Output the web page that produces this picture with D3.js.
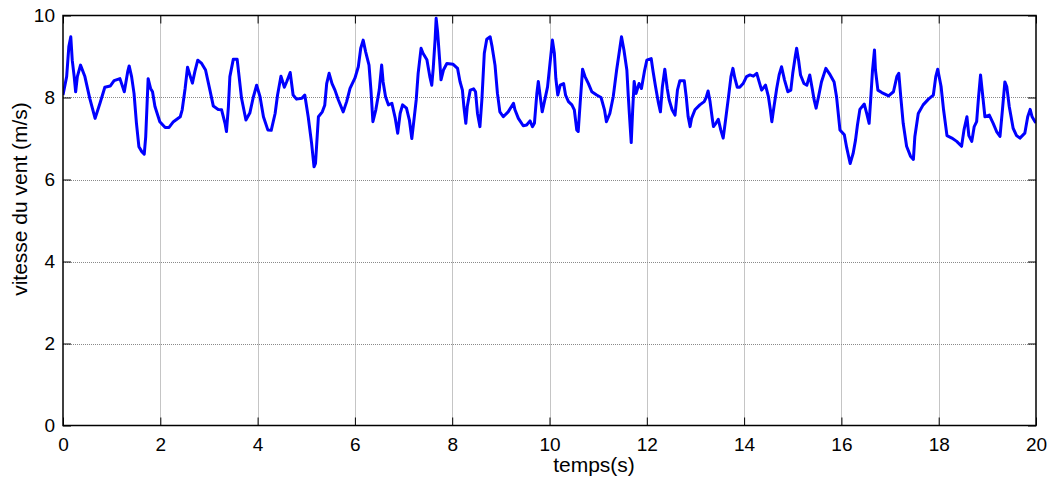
<!DOCTYPE html>
<html>
<head>
<meta charset="utf-8">
<script src="https://cdn.jsdelivr.net/npm/d3@7"></script>
<style>
  html, body { margin: 0; padding: 0; background: #fff; }
  svg { display: block; font-family: "Liberation Sans", Arial, sans-serif; }
</style>
</head>
<body>
<svg id="chart" width="1051" height="481"></svg>
<script>
// Wind speed record, sampled along the 20 s window
const times = [
  0.00, 0.075, 0.12, 0.16, 0.19, 0.23, 0.26, 0.295, 0.36, 0.45, 0.55, 0.66, 0.76, 0.86, 0.97,
  1.05, 1.17, 1.26, 1.33, 1.36, 1.41, 1.46, 1.51, 1.56, 1.62, 1.67, 1.70, 1.75, 1.80, 1.84, 1.89, 1.99,
  2.10, 2.18, 2.27, 2.41, 2.45, 2.51, 2.56, 2.61, 2.66, 2.71, 2.77, 2.85, 2.93,
  3.02, 3.09, 3.19, 3.26, 3.33, 3.36, 3.40, 3.43, 3.50, 3.58, 3.62, 3.67, 3.76, 3.84, 3.91, 3.98,
  4.05, 4.12, 4.21, 4.28, 4.36, 4.41, 4.48, 4.55, 4.60, 4.67, 4.73, 4.80, 4.91, 4.97,
  5.04, 5.11, 5.16, 5.19, 5.25, 5.33, 5.38, 5.42, 5.47, 5.53, 5.59, 5.66, 5.76, 5.83, 5.90,
  6.00, 6.07, 6.12, 6.17, 6.22, 6.29, 6.33, 6.37, 6.43, 6.50, 6.55, 6.58, 6.63, 6.69, 6.76, 6.83, 6.88, 6.93, 6.98,
  7.06, 7.12, 7.17, 7.21, 7.26, 7.30, 7.36, 7.40, 7.48, 7.54, 7.58, 7.61, 7.65, 7.67, 7.70, 7.74, 7.77, 7.82, 7.89,
  8.02, 8.11, 8.16, 8.21, 8.24, 8.28, 8.31, 8.37, 8.44, 8.48, 8.52, 8.57, 8.61, 8.66, 8.71, 8.78, 8.82, 8.88, 8.93, 8.98,
  9.05, 9.15, 9.26, 9.29, 9.36, 9.46, 9.53, 9.60, 9.65, 9.69, 9.74, 9.77, 9.81, 9.85, 9.91, 9.96,
  10.01, 10.06, 10.10, 10.13, 10.17, 10.22, 10.29, 10.33, 10.39, 10.46, 10.51, 10.56, 10.59, 10.63, 10.68, 10.73, 10.80, 10.87, 10.97,
  11.06, 11.13, 11.17, 11.24, 11.31, 11.38, 11.45, 11.48, 11.53, 11.59, 11.62, 11.65, 11.68, 11.71, 11.74, 11.78, 11.84, 11.89, 11.95,
  12.00, 12.09, 12.13, 12.18, 12.24, 12.28, 12.32, 12.37, 12.42, 12.46, 12.52, 12.58, 12.63, 12.68, 12.77, 12.81, 12.85, 12.89, 12.92, 12.99,
  13.09, 13.18, 13.22, 13.26, 13.30, 13.35, 13.37, 13.42, 13.47, 13.52, 13.57, 13.61, 13.68, 13.73, 13.77, 13.81, 13.86, 13.91, 13.98,
  14.05, 14.12, 14.19, 14.26, 14.31, 14.36, 14.44, 14.50, 14.54, 14.57, 14.61, 14.67, 14.72, 14.77, 14.83, 14.90, 14.96,
  15.00, 15.05, 15.08, 15.12, 15.16, 15.23, 15.29, 15.35, 15.40, 15.44, 15.48, 15.53, 15.59, 15.68, 15.77, 15.85, 15.90, 15.97,
  16.06, 16.11, 16.18, 16.24, 16.29, 16.33, 16.38, 16.47, 16.52, 16.57, 16.61, 16.64, 16.68, 16.70, 16.75, 16.83, 16.97,
  17.07, 17.14, 17.18, 17.22, 17.27, 17.34, 17.42, 17.48, 17.51, 17.58, 17.68, 17.79, 17.89, 17.94, 17.98,
  18.05, 18.10, 18.17, 18.27, 18.37, 18.47, 18.52, 18.58, 18.62, 18.68, 18.73, 18.78, 18.82, 18.86, 18.90, 18.95,
  19.04, 19.12, 19.19, 19.26, 19.31, 19.36, 19.40, 19.45, 19.53, 19.60, 19.67, 19.77, 19.83, 19.88, 19.92, 19.98, 20.00
];
const speeds = [
  8.06, 8.51, 9.24, 9.48, 8.91, 8.51, 8.14, 8.51, 8.79, 8.51, 7.98, 7.49, 7.86, 8.25, 8.28,
  8.41, 8.46, 8.14, 8.63, 8.77, 8.51, 8.10, 7.37, 6.80, 6.68, 6.62, 7.04, 8.46, 8.22, 8.14, 7.78, 7.41,
  7.27, 7.27, 7.41, 7.53, 7.70, 8.22, 8.74, 8.54, 8.35, 8.63, 8.91, 8.83, 8.67,
  8.18, 7.79, 7.71, 7.70, 7.37, 7.17, 7.78, 8.51, 8.93, 8.93, 8.51, 7.98, 7.45, 7.62, 8.00, 8.30,
  8.02, 7.53, 7.21, 7.20, 7.61, 8.06, 8.52, 8.25, 8.39, 8.61, 8.06, 7.96, 7.98, 8.06,
  7.53, 6.88, 6.31, 6.39, 7.53, 7.65, 7.81, 8.34, 8.59, 8.34, 8.18, 7.94, 7.65, 7.90, 8.22,
  8.47, 8.75, 9.20, 9.40, 9.12, 8.79, 8.18, 7.41, 7.70, 8.18, 8.79, 8.38, 8.02, 7.82, 7.86, 7.49, 7.13, 7.61, 7.82,
  7.74, 7.45, 7.00, 7.41, 7.94, 8.59, 9.20, 9.08, 8.92, 8.51, 8.30, 8.71, 9.44, 9.93, 9.60, 8.95, 8.43, 8.67, 8.83,
  8.81, 8.71, 8.39, 8.18, 7.78, 7.37, 7.78, 8.18, 8.21, 8.14, 7.61, 7.29, 7.94, 9.08, 9.42, 9.48, 9.24, 8.79, 8.10, 7.65,
  7.53, 7.65, 7.86, 7.70, 7.49, 7.31, 7.33, 7.43, 7.29, 7.37, 8.10, 8.39, 8.02, 7.65, 7.98, 8.26,
  8.83, 9.40, 9.08, 8.47, 8.06, 8.30, 8.34, 8.06, 7.90, 7.82, 7.70, 7.21, 7.17, 7.86, 8.69, 8.51, 8.34, 8.14, 8.06,
  8.00, 7.70, 7.41, 7.61, 8.02, 8.67, 9.24, 9.48, 9.16, 8.67, 8.02, 7.45, 6.90, 7.70, 8.39, 8.10, 8.34, 8.22, 8.63,
  8.91, 8.95, 8.63, 8.26, 7.86, 7.65, 8.26, 8.69, 8.22, 7.94, 7.70, 7.57, 8.18, 8.41, 8.41, 8.02, 7.53, 7.29, 7.49, 7.70,
  7.82, 7.90, 8.00, 8.16, 7.90, 7.45, 7.29, 7.37, 7.47, 7.21, 7.01, 7.37, 8.02, 8.51, 8.71, 8.47, 8.25, 8.25, 8.34,
  8.51, 8.55, 8.52, 8.59, 8.38, 8.18, 8.30, 8.02, 7.70, 7.41, 7.74, 8.22, 8.55, 8.75, 8.43, 8.14, 8.18,
  8.59, 8.99, 9.20, 8.91, 8.55, 8.34, 8.30, 8.55, 8.22, 7.94, 7.74, 8.02, 8.38, 8.71, 8.55, 8.38, 8.02, 7.21,
  7.09, 6.77, 6.39, 6.63, 6.96, 7.33, 7.71, 7.84, 7.61, 7.37, 8.10, 8.67, 9.16, 8.67, 8.18, 8.12, 8.04,
  8.14, 8.51, 8.59, 8.02, 7.37, 6.81, 6.57, 6.49, 7.05, 7.61, 7.82, 7.96, 8.06, 8.51, 8.69,
  8.26, 7.70, 7.07, 7.01, 6.93, 6.81, 7.21, 7.53, 7.07, 6.93, 7.29, 7.41, 8.02, 8.55, 8.10, 7.53,
  7.57, 7.37, 7.17, 7.05, 7.70, 8.38, 8.26, 7.78, 7.25, 7.07, 7.01, 7.13, 7.53, 7.71, 7.53, 7.41, 7.38
];
const xTicks = [0, 2, 4, 6, 8, 10, 12, 14, 16, 18, 20];
const yTicks = [0, 2, 4, 6, 8, 10];
const xLabel = "temps(s)";
const yLabel = "vitesse du vent (m/s)";

const svg = d3.select("#chart");
const plot = { left: 63, right: 1036, top: 15.5, bottom: 425.5 };

const x = d3.scaleLinear().domain([0, 20]).range([plot.left, plot.right]);
const y = d3.scaleLinear().domain([0, 10]).range([plot.bottom, plot.top]);

// dotted grid at the inner ticks
const grid = svg.append("g").attr("stroke", "#8a8a8a").attr("stroke-width", 1)
  .attr("stroke-dasharray", "1,1").attr("fill", "none");
grid.selectAll("line.gx").data(xTicks.slice(1, -1)).enter().append("line")
  .attr("x1", d => Math.round(x(d)) + 0.5).attr("x2", d => Math.round(x(d)) + 0.5)
  .attr("y1", plot.top).attr("y2", plot.bottom);
grid.selectAll("line.gy").data(yTicks.slice(1, -1)).enter().append("line")
  .attr("y1", d => Math.round(y(d)) + 0.5).attr("y2", d => Math.round(y(d)) + 0.5)
  .attr("x1", plot.left).attr("x2", plot.right);

// wind speed trace
svg.append("defs").append("clipPath").attr("id", "clip").append("rect")
  .attr("x", plot.left).attr("y", plot.top - 2)
  .attr("width", plot.right - plot.left).attr("height", plot.bottom - plot.top + 2);

const line = d3.line().x((d, i) => x(times[i])).y((d, i) => y(speeds[i]));
svg.append("path").datum(speeds)
  .attr("clip-path", "url(#clip)")
  .attr("fill", "none").attr("stroke", "#0000ff").attr("stroke-width", 3)
  .attr("stroke-linejoin", "round").attr("d", line);

// axes with inward ticks on all four sides
const tickLen = 8;
function styleAxis(g) {
  g.select(".domain").remove();
  g.selectAll(".tick line").attr("stroke", "#000").attr("stroke-width", 1);
  g.selectAll(".tick text").attr("fill", "#000").attr("font-size", 19)
    .attr("font-family", "\"Liberation Sans\", Arial, sans-serif");
}
svg.append("g").attr("transform", `translate(0,${plot.bottom})`)
  .call(d3.axisBottom(x).tickValues(xTicks).tickFormat(d3.format("d")).tickSize(-tickLen).tickPadding(12))
  .call(styleAxis);
svg.append("g").attr("transform", `translate(0,${plot.top})`)
  .call(d3.axisTop(x).tickValues(xTicks).tickFormat("").tickSize(-tickLen))
  .call(styleAxis);
svg.append("g").attr("transform", `translate(${plot.left},0)`)
  .call(d3.axisLeft(y).tickValues(yTicks).tickFormat(d3.format("d")).tickSize(-tickLen).tickPadding(8))
  .call(styleAxis);
svg.append("g").attr("transform", `translate(${plot.right},0)`)
  .call(d3.axisRight(y).tickValues(yTicks).tickFormat("").tickSize(-tickLen))
  .call(styleAxis);

// frame
svg.append("rect")
  .attr("x", plot.left).attr("y", plot.top)
  .attr("width", plot.right - plot.left).attr("height", plot.bottom - plot.top)
  .attr("fill", "none").attr("stroke", "#000").attr("stroke-width", 1.5);

// axis titles
svg.append("text").attr("x", 594).attr("y", 472).attr("text-anchor", "middle")
  .attr("font-size", 21).attr("fill", "#000").text(xLabel);
svg.append("text").attr("transform", "translate(27,199) rotate(-90)").attr("text-anchor", "middle")
  .attr("font-size", 21).attr("fill", "#000").text(yLabel);
</script>
</body>
</html>
